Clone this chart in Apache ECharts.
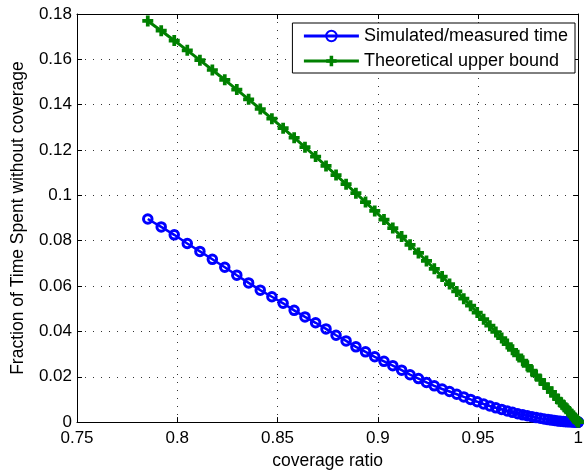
<!DOCTYPE html>
<html>
<head>
<meta charset="utf-8">
<script src="https://cdn.jsdelivr.net/npm/echarts@6/dist/echarts.min.js"></script>
<style>
  html, body { margin: 0; padding: 0; background: #fff; }
  #chart { width: 586px; height: 475px; }
</style>
</head>
<body>
<div id="chart"></div>
<script>
// coverage ratio (x) shared by both series
var coverage = [0.7853,0.7920,0.7985,0.8050,0.8113,0.8175,0.8237,0.8297,0.8356,0.8414,
  0.8472,0.8528,0.8583,0.8637,0.8690,0.8742,0.8792,0.8842,0.8891,0.8939,
  0.8985,0.9031,0.9075,0.9119,0.9161,0.9203,0.9243,0.9282,0.9321,0.9358,
  0.9394,0.9429,0.9463,0.9496,0.9528,0.9559,0.9589,0.9618,0.9646,0.9672,
  0.9698,0.9723,0.9746,0.9769,0.9790,0.9811,0.9830,0.9849,0.9866,0.9882,
  0.9897,0.9911,0.9925,0.9937,0.9948,0.9958,0.9967,0.9974,0.9981,0.9987,
  0.9992,0.9995,0.9998,0.99995,1.0];

// Simulated/measured time
var simulated = [0.0896,0.0861,0.0826,0.0788,0.0753,0.0718,0.0683,0.0648,0.0614,0.0582,
  0.0553,0.0524,0.0493,0.0464,0.0438,0.0411,0.0383,0.0358,0.0332,0.0310,
  0.0288,0.0268,0.0249,0.0229,0.0209,0.0192,0.0175,0.0160,0.0146,0.0135,
  0.0123,0.0111,0.0100,0.0090,0.0080,0.0071,0.0063,0.0056,0.0049,0.0043,
  0.0037,0.0032,0.0028,0.0024,0.0020,0.0017,0.0014,0.0011,0.0009,0.0007,
  0.0005,0.0004,0.0003,0.0002,0.0002,0.0001,0.0001,0.00005,0.00003,0.00002,
  0.00001,0,0,0,0];

// Theoretical upper bound
var theoretical = [0.17695,0.17263,0.16830,0.16396,0.15963,0.15530,0.15098,0.14667,0.14238,0.13810,
  0.13385,0.12962,0.12542,0.12125,0.11711,0.11301,0.10895,0.10493,0.10095,0.09703,
  0.09315,0.08933,0.08556,0.08184,0.07819,0.07460,0.07107,0.06761,0.06421,0.06089,
  0.05764,0.05446,0.05136,0.04833,0.04539,0.04252,0.03974,0.03704,0.03442,0.03190,
  0.02946,0.02711,0.02485,0.02269,0.02062,0.01863,0.01675,0.01497,0.01328,0.01168,
  0.01019,0.00880,0.00750,0.00631,0.00522,0.00424,0.00334,0.00256,0.00189,0.00131,
  0.00084,0.00047,0.00021,0.00005,0];

var seriesNames = ['Simulated/measured time', 'Theoretical upper bound'];
var xTickLabels = ['0.75','0.8','0.85','0.9','0.95','1'];
var yTickLabels = ['0','0.02','0.04','0.06','0.08','0.1','0.12','0.14','0.16','0.18'];

var X_MIN = 0.75, X_MAX = 1, X_INT = 0.05;
var Y_MIN = 0, Y_MAX = 0.18, Y_INT = 0.02;

function pairs(xs, ys) {
  var out = [];
  for (var i = 0; i < xs.length; i++) out.push([xs[i], ys[i]]);
  return out;
}

var FONT = 'Liberation Sans, Arial, Helvetica, sans-serif';
var gridLine = { show: true, lineStyle: { color: '#333', width: 1, type: [1, 7] } };
var axisLine = { show: true, onZero: false, lineStyle: { color: '#000', width: 1 } };
var tickIn = { show: true, inside: true, length: 5, lineStyle: { color: '#000', width: 1 } };

var plusPath = 'path://M3.3,0H6.7V3.3H10V6.7H6.7V10H3.3V6.7H0V3.3H3.3Z';

var chart = echarts.init(document.getElementById('chart'), null, { renderer: 'canvas' });
chart.setOption({
  animation: false,
  backgroundColor: '#fff',
  textStyle: { fontFamily: FONT },
  grid: { left: 77, right: 4, top: 14, bottom: 49, containLabel: false },
  legend: {
    orient: 'vertical',
    right: 11,
    top: 23,
    padding: [4, 7, 3, 10],
    itemGap: 7,
    itemWidth: 55,
    itemHeight: 13,
    backgroundColor: '#fff',
    borderColor: '#000',
    borderWidth: 1,
    borderRadius: 0,
    lineStyle: { width: 3 },
    textStyle: { fontFamily: FONT, fontSize: 18, color: '#000' },
    data: seriesNames
  },
  xAxis: [{
    type: 'value', min: X_MIN, max: X_MAX, interval: X_INT,
    position: 'bottom',
    name: 'coverage ratio', nameLocation: 'middle', nameGap: 29,
    nameTextStyle: { fontFamily: FONT, fontSize: 17.5, color: '#000' },
    axisLine: axisLine, axisTick: tickIn, splitLine: gridLine,
    axisLabel: {
      margin: 8, fontFamily: FONT, fontSize: 17, color: '#000',
      formatter: function (v) { return xTickLabels[Math.round((v - X_MIN) / X_INT)]; }
    }
  }, {
    type: 'value', min: X_MIN, max: X_MAX, interval: X_INT,
    position: 'top',
    axisLine: axisLine, axisTick: tickIn, splitLine: { show: false },
    axisLabel: { show: false }
  }],
  yAxis: [{
    type: 'value', min: Y_MIN, max: Y_MAX, interval: Y_INT,
    position: 'left',
    name: 'Fraction of Time Spent without coverage', nameLocation: 'middle', nameGap: 50,
    nameTextStyle: { fontFamily: FONT, fontSize: 17.5, color: '#000' },
    axisLine: axisLine, axisTick: tickIn, splitLine: gridLine,
    axisLabel: {
      margin: 5, fontFamily: FONT, fontSize: 17, color: '#000',
      formatter: function (v) { return yTickLabels[Math.round((v - Y_MIN) / Y_INT)]; }
    }
  }, {
    type: 'value', min: Y_MIN, max: Y_MAX, interval: Y_INT,
    position: 'right',
    axisLine: axisLine, axisTick: tickIn, splitLine: { show: false },
    axisLabel: { show: false }
  }],
  series: [{
    name: seriesNames[0],
    type: 'line',
    xAxisIndex: 0, yAxisIndex: 0,
    data: pairs(coverage, simulated),
    symbol: 'circle',
    symbolSize: 8.5,
    showAllSymbol: true,
    lineStyle: { color: '#0000ff', width: 2.5 },
    itemStyle: { color: 'rgba(0,0,0,0)', borderColor: '#0000ff', borderWidth: 3 },
    z: 3
  }, {
    name: seriesNames[1],
    type: 'line',
    xAxisIndex: 0, yAxisIndex: 0,
    data: pairs(coverage, theoretical),
    symbol: plusPath,
    symbolSize: 11,
    showAllSymbol: true,
    lineStyle: { color: '#008000', width: 3 },
    itemStyle: { color: '#008000', borderWidth: 0 },
    z: 4
  }]
});
</script>
</body>
</html>
